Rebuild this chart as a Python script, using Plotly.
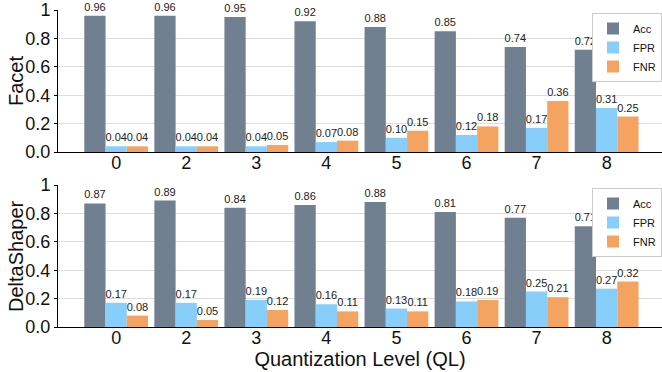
import plotly.graph_objects as go
from plotly.subplots import make_subplots

levels = ["0", "2", "3", "4", "5", "6", "7", "8"]
facet_acc = [0.96, 0.96, 0.95, 0.92, 0.88, 0.85, 0.74, 0.72]
facet_fpr = [0.04, 0.04, 0.04, 0.07, 0.10, 0.12, 0.17, 0.31]
facet_fnr = [0.04, 0.04, 0.05, 0.08, 0.15, 0.18, 0.36, 0.25]
ds_acc = [0.87, 0.89, 0.84, 0.86, 0.88, 0.81, 0.77, 0.71]
ds_fpr = [0.17, 0.17, 0.19, 0.16, 0.13, 0.18, 0.25, 0.27]
ds_fnr = [0.08, 0.05, 0.12, 0.11, 0.11, 0.19, 0.21, 0.32]

series_names = ["Acc", "FPR", "FNR"]
colors = ["#708090", "#87CEFA", "#F4A460"]
ytickvals = [0, 0.2, 0.4, 0.6, 0.8, 1.0]
yticktext = ["0.0", "0.2", "0.4", "0.6", "0.8", "1"]
panel_titles = ["Facet", "DeltaShaper"]

FONT = "Liberation Sans, Arial, Helvetica, sans-serif"

fig = make_subplots(rows=2, cols=1, vertical_spacing=0.1)

panels = [(facet_acc, facet_fpr, facet_fnr), (ds_acc, ds_fpr, ds_fnr)]
for r, vals in enumerate(panels, start=1):
    for name, v, c in zip(series_names, vals, colors):
        fig.add_trace(go.Bar(
            x=levels, y=v, name=name, marker_color=c, marker_line_width=0,
            text=[f"{t:.2f}" for t in v], textposition="outside",
            textfont=dict(size=11, color="#222222", family=FONT),
            cliponaxis=False, constraintext="none",
            showlegend=True, legend="legend" if r == 1 else "legend2",
        ), row=r, col=1)

W, H = 662, 372
ml, mt, mb = 58, 10, 45
ph = H - mt - mb
pw = W - ml
def dom(top_px, bot_px):
    return [(H - bot_px - mb) / ph, (H - top_px - mb) / ph]

legend_style = dict(xanchor="right", yanchor="top",
                    bordercolor="#cccccc", borderwidth=1, bgcolor="white",
                    font=dict(size=11, family=FONT), tracegroupgap=0)
fig.update_layout(
    width=W, height=H,
    margin=dict(l=ml, r=0, t=mt, b=mb),
    paper_bgcolor="white", plot_bgcolor="white",
    barmode="group", bargap=0.09, bargroupgap=0,
    font=dict(family=FONT, color="#111111"),
    legend=dict(x=1, y=dom(13, 152)[1], **legend_style),
    legend2=dict(x=1, y=dom(188, 327)[1], **legend_style),
)

for r, (tp, bp), title in [(1, (10, 152), panel_titles[0]), (2, (185, 327), panel_titles[1])]:
    d = dom(tp, bp)
    fig.update_yaxes(
        row=r, col=1, range=[0, 1], domain=d,
        tickvals=ytickvals, ticktext=yticktext,
        tickfont=dict(size=18, family=FONT, color="#111111"),
        showgrid=True, gridcolor="#dddddd", gridwidth=1,
        showline=True, linecolor="black", linewidth=1,
        ticks="outside", ticklen=3, tickcolor="black",
        zeroline=False, automargin=False,
    )
    fig.add_annotation(text=title, xref="paper", yref="paper",
                       x=(16 - ml) / pw, y=(d[0] + d[1]) / 2,
                       xanchor="center", yanchor="middle", textangle=-90,
                       showarrow=False,
                       font=dict(size=20, family=FONT, color="#111111"))
    fig.update_xaxes(
        row=r, col=1, range=[-0.83, 7.79],
        tickfont=dict(size=18, family=FONT, color="#111111"),
        showgrid=False, showline=True, linecolor="black", linewidth=1,
        ticks="", zeroline=False, automargin=False, ticklabelstandoff=-6,
    )

fig.update_xaxes(row=2, col=1,
                 title=dict(text="Quantization Level (QL)",
                            font=dict(size=20, family=FONT, color="#111111"), standoff=0))

fig.write_html("out.html", config={"displayModeBar": False},
               post_script="document.body.style.margin='0';")
